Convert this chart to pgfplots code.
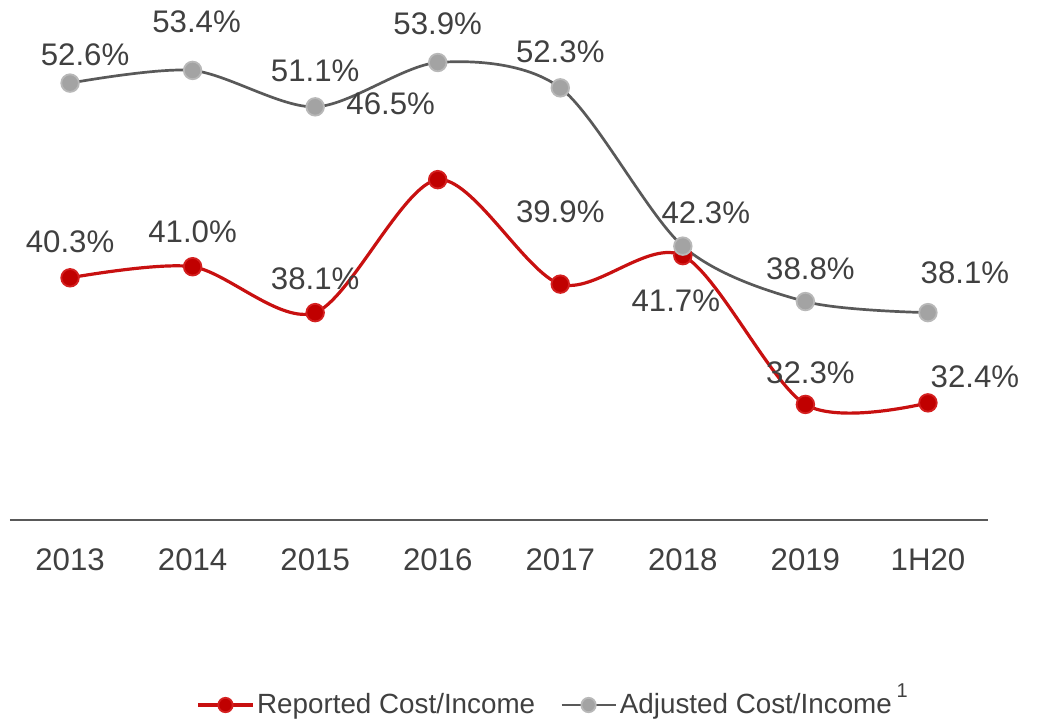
\documentclass[border=0pt]{standalone}
\usepackage{pgfplots}
\pgfplotsset{compat=1.18}
\usepackage{fontspec}
\setmainfont{Liberation Sans}
\definecolor{repred}{HTML}{C00000}
\definecolor{repline}{HTML}{C81010}
\definecolor{repredmk}{HTML}{D42020}
\definecolor{adjline}{HTML}{595959}
\definecolor{adjmk}{HTML}{A3A3A3}
\definecolor{adjmkd}{HTML}{B8B8B8}
\definecolor{txt}{HTML}{404040}
\definecolor{axgray}{HTML}{595959}
\tikzset{lbl/.style={font=\fontsize{15.6}{18}\selectfont, text=txt, anchor=center, inner sep=0pt}}
\begin{document}
\begin{tikzpicture}
\path[use as bounding box] (-5pt,-100.5pt) rectangle (519pt,260pt);
\begin{axis}[
  at={(0,0)}, anchor=south west,
  scale only axis, width=489pt, height=260pt,
  xmin=-0.49, xmax=7.49, ymin=25, ymax=57.85,
  axis x line*=bottom, axis y line=none,
  x axis line style={-, color=axgray, line width=0.6pt},
  clip=false,
  xtick={0,1,2,3,4,5,6,7},
  xticklabels={2013,2014,2015,2016,2017,2018,2019,1H20},
  major tick length=0pt,
  xticklabel style={font=\fontsize{15.6}{18}\selectfont, text=txt, anchor=base, yshift=-25pt},
  legend columns=2,
  legend style={draw=none, fill=none, at={(axis description cs:0.5560,-0.3558)}, anchor=center,
    font=\fontsize{13.9}{16}\selectfont, text=txt, nodes={inner xsep=1.5pt},
    /tikz/every even column/.append style={column sep=11pt}},
  legend image code/.code={\draw[mark repeat=2,mark phase=2,#1,mark size=3.6pt] plot coordinates {(0pt,0pt)(13.5pt,0pt)(27pt,0pt)};},
]
\addplot[smooth, color=repline, line width=1.6pt, mark=*, mark size=4.4pt,
  mark options={fill=repred, draw=repredmk, line width=0.9pt}]
  coordinates {(0,40.3) (1,41.0) (2,38.1) (3,46.5) (4,39.9) (5,41.7) (6,32.3) (7,32.4)};
\addlegendentry{Reported Cost/Income}
\addplot[smooth, color=adjline, line width=1.35pt, mark=*, mark size=4.4pt,
  mark options={fill=adjmk, draw=adjmkd, line width=0.9pt}]
  coordinates {(0,52.6) (1,53.4) (2,51.1) (3,53.9) (4,52.3) (5,42.3) (6,38.8) (7,38.1)};
\addlegendentry{Adjusted Cost/Income\,\raisebox{1.1ex}[0pt][0pt]{\fontsize{10}{12}\selectfont 1}}

\node[lbl, xshift=7.5pt, yshift=14pt] at (axis cs:0,52.6) {52.6\%};
\node[lbl, xshift=2pt, yshift=24.5pt] at (axis cs:1,53.4) {53.4\%};
\node[lbl, xshift=0pt, yshift=18pt] at (axis cs:2,51.1) {51.1\%};
\node[lbl, xshift=0pt, yshift=19.5pt] at (axis cs:3,53.9) {53.9\%};
\node[lbl, xshift=0pt, yshift=18pt] at (axis cs:4,52.3) {52.3\%};
\node[lbl, xshift=11.5pt, yshift=16.5pt] at (axis cs:5,42.3) {42.3\%};
\node[lbl, xshift=2.5pt, yshift=16.5pt] at (axis cs:6,38.8) {38.8\%};
\node[lbl, xshift=18.5pt, yshift=20pt] at (axis cs:7,38.1) {38.1\%};

\node[lbl, xshift=0pt, yshift=18pt] at (axis cs:0,40.3) {40.3\%};
\node[lbl, xshift=0pt, yshift=17.5pt] at (axis cs:1,41.0) {41.0\%};
\node[lbl, xshift=0pt, yshift=17pt] at (axis cs:2,38.1) {38.1\%};
\node[lbl, xshift=-23.5pt, yshift=38pt] at (axis cs:3,46.5) {46.5\%};
\node[lbl, xshift=0pt, yshift=36pt] at (axis cs:4,39.9) {39.9\%};
\node[lbl, xshift=-3.5pt, yshift=-22.5pt] at (axis cs:5,41.7) {41.7\%};
\node[lbl, xshift=2.5pt, yshift=16pt] at (axis cs:6,32.3) {32.3\%};
\node[lbl, xshift=23.5pt, yshift=13pt] at (axis cs:7,32.4) {32.4\%};
\end{axis}
\end{tikzpicture}
\end{document}
